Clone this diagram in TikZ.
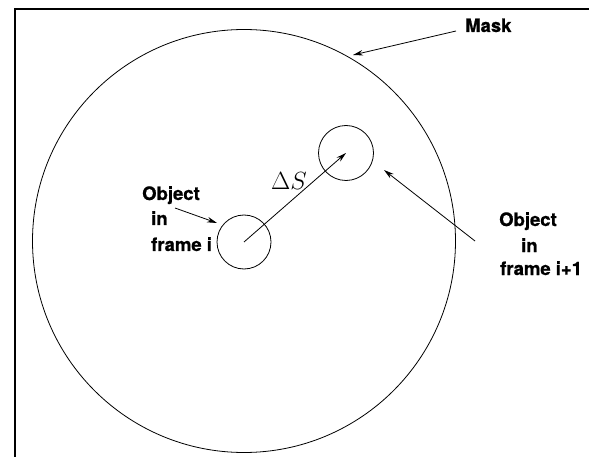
\documentclass[tikz,border=0pt]{standalone}
\usepackage{fontspec}
\setmainfont{TeX Gyre Heros}
\newfontfamily\lblfont[BoldFeatures={FakeBold=0.8}]{TeX Gyre Heros}
\usetikzlibrary{arrows.meta}
\tikzset{
  lbl/.style={font=\lblfont\bfseries\fontsize{18.5}{20}\selectfont, inner sep=0pt, anchor=base west},
  ring/.style={draw, circle, line width=0.8pt, inner sep=0pt},
  arr/.style={-{Stealth[length=10pt,width=5.5pt]}, line width=0.8pt},
}
\begin{document}
\begin{tikzpicture}[x=1pt,y=-1pt]
\useasboundingbox (0,0) rectangle (589,457);
% frame
\coordinate (fbl) at (15,457);
\coordinate (ftl) at (15,9);
\coordinate (ftr) at (589,9);
\draw[line width=1.3pt] (fbl) -- (ftl) -- (ftr);
% circles
\node[ring, minimum size=423pt] (mask) at (244,241) {};
\node[ring, minimum size=54pt] (obj1) at (244,242) {};
\node[ring, minimum size=55pt] (obj2) at (346,153) {};
% labels
\node[lbl] (masklbl) at (465,32) {Mask};
\node[lbl] (o1a) at (142,200) {Object};
\node[lbl] (o1b) at (151,225) {in};
\node[lbl] (o1c) at (151,251) {frame i};
\node[lbl] (o2a) at (499,226) {Object};
\node[lbl] (o2b) at (521,252) {in};
\node[lbl] (o2c) at (500,275) {frame i+1};
\node[inner sep=0pt, font=\fontsize{27}{30}\selectfont] (ds) at (289,181) {$\Delta S$};
% connectors
\coordinate (mstart) at (456,31);
\coordinate (mend) at (353,55);
\draw[arr] (mstart) -- (mend);
\coordinate (s1) at (175,208);
\coordinate (e1) at (217,223);
\draw[arr] (s1) -- (e1);
\coordinate (s2) at (475,241);
\coordinate (e2) at (384,170);
\draw[arr] (s2) -- (e2);
\draw[arr] (obj1.center) -- (obj2.center);
\end{tikzpicture}
\end{document}
